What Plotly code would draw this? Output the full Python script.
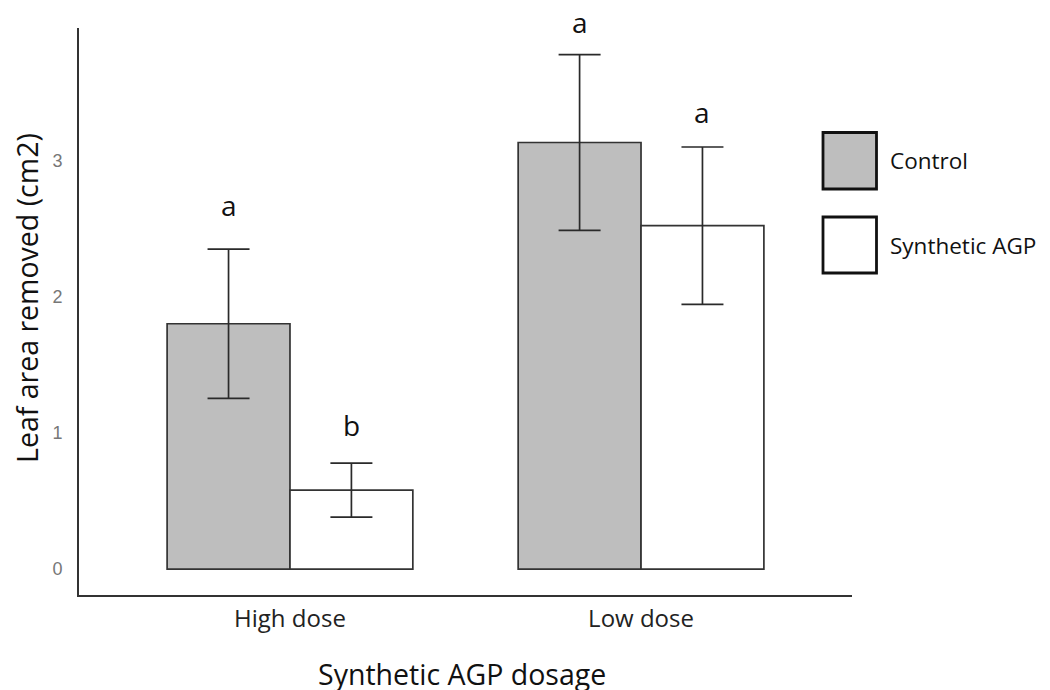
import plotly.graph_objects as go

groups = ["High dose", "Low dose"]
series_names = ["Control", "Synthetic AGP"]
control_means = [1.80, 3.13]
control_err = [0.547, 0.645]
agp_means = [0.58, 2.52]
agp_err = [0.198, 0.577]
control_letters = ["a", "a"]
agp_letters = ["b", "a"]

fills = ["#bebebe", "#ffffff"]
bar_w = 0.35
offsets = [-bar_w / 2, bar_w / 2]
# pixel lift of each significance letter above its error-bar cap (style)
letter_lift = [[44, 33], [38, 35]]

fig = go.Figure()
all_means = [control_means, agp_means]
all_errs = [control_err, agp_err]
all_letters = [control_letters, agp_letters]

for s in range(2):
    xs = [i + offsets[s] for i in range(len(groups))]
    fig.add_trace(go.Bar(
        x=xs, y=all_means[s], width=bar_w, name=series_names[s],
        marker=dict(color=fills[s], line=dict(color="#333333", width=1.7)),
        error_y=dict(type="data", array=all_errs[s], visible=True,
                     color="#2a2a2a", thickness=1.7, width=21),
        showlegend=False,
    ))
    for i in range(len(groups)):
        fig.add_annotation(x=xs[i], y=all_means[s][i] + all_errs[s][i],
                           xref="x", yref="y", text=all_letters[s][i],
                           showarrow=False, yanchor="middle",
                           yshift=letter_lift[s][i],
                           font=dict(family="Open Sans", size=28, color="#111111"))

# manual legend (large swatches as in the reference)
T, B, LFT, RGT = 28, 95, 79, 198
L = 1050.0 - LFT - RGT
H = 690.0 - T - B
bottom_px = 690.0 - B
legend_boxes = [(132.5, 189), (217, 273)]
for s in range(2):
    y0p, y1p = legend_boxes[s]
    fig.add_shape(type="rect", xref="paper", yref="paper",
                  x0=(823 - LFT) / L, x1=(876.5 - LFT) / L,
                  y0=(bottom_px - y1p) / H, y1=(bottom_px - y0p) / H,
                  fillcolor=fills[s], line=dict(color="#111111", width=2.8))
    fig.add_annotation(xref="paper", yref="paper",
                       x=(888 - LFT) / L, y=(bottom_px - (y0p + y1p) / 2) / H,
                       text=series_names[s], showarrow=False,
                       xanchor="left", yanchor="middle",
                       font=dict(family="Open Sans", size=22.5, color="#111111"))

# axis titles as annotations (positions matched to the reference)
fig.add_annotation(xref="paper", yref="paper", x=(27 - LFT) / L, y=(bottom_px - 298) / H,
                   text="Leaf area removed (cm2)", textangle=-90, showarrow=False,
                   xanchor="center", yanchor="middle",
                   font=dict(family="Open Sans", size=28.5, color="#111111"))
fig.add_annotation(xref="paper", yref="paper", x=(461.5 - LFT) / L, y=(bottom_px - 674) / H,
                   text="Synthetic AGP dosage", showarrow=False,
                   xanchor="center", yanchor="middle",
                   font=dict(family="Open Sans", size=28.5, color="#111111"))

fig.update_layout(
    width=1050, height=690,
    margin=dict(l=LFT, r=RGT, t=T, b=B, autoexpand=False),
    plot_bgcolor="white", paper_bgcolor="white",
    barmode="overlay",
    font=dict(family="Open Sans", color="#111111"),
)
fig.update_xaxes(
    range=[-0.601, 1.601], tickmode="array", tickvals=list(range(len(groups))),
    ticktext=groups, showline=True, linecolor="#333333", linewidth=2,
    showgrid=False, zeroline=False, ticks="", ticklabelstandoff=1,
    automargin=False,
    tickfont=dict(family="Open Sans", size=24, color="#222222"),
)
fig.update_yaxes(
    range=[-0.19, 3.97], tickmode="array", tickvals=[0, 1, 2, 3],
    showline=True, linecolor="#333333", linewidth=2,
    showgrid=False, zeroline=False, ticks="", ticklabelstandoff=11,
    automargin=False,
    tickfont=dict(family="Liberation Sans", size=18, color="#777777"),
)

fig.write_html("out.html")
